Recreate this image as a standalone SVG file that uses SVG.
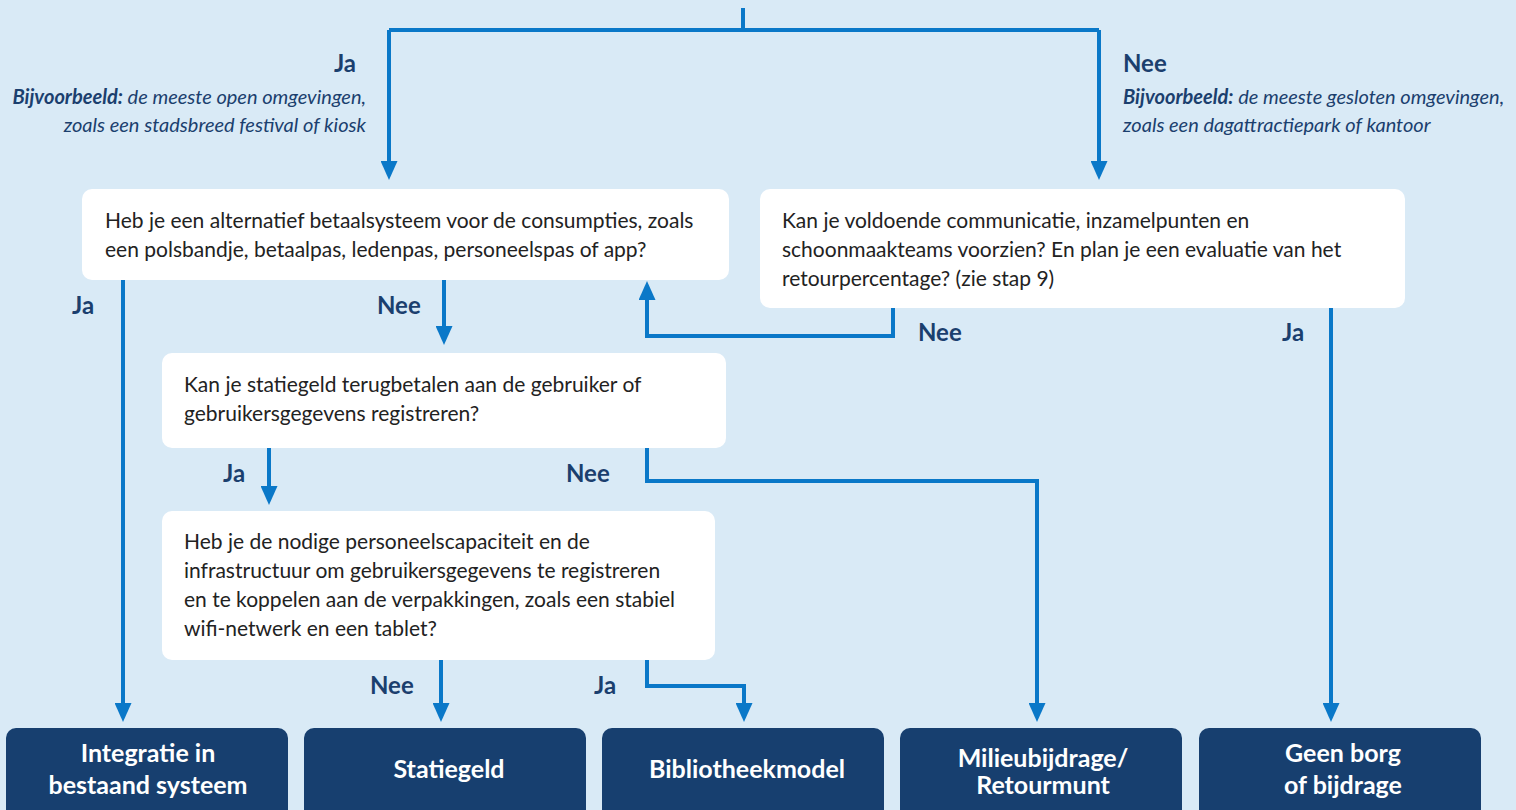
<svg xmlns="http://www.w3.org/2000/svg" width="1516" height="810" viewBox="0 0 1516 810">
<defs>
<marker id="ah" viewBox="0 0 19 17" refX="9" refY="8.5" markerWidth="19" markerHeight="17" markerUnits="userSpaceOnUse" orient="auto">
<path d="M0,0 L19,8.5 L0,17 Z" fill="#0a78c8"/>
</marker>
<style>
.q{fill:#ffffff}
.r{fill:#173f6f}
.t{font-family:Lato,"Liberation Sans",sans-serif;font-size:21px;fill:#222222}
.l{font-family:Lato,"Liberation Sans",sans-serif;font-size:24px;font-weight:bold;fill:#1b3f6e}
.e{font-family:Lato,"Liberation Sans",sans-serif;font-size:20px;font-style:italic;fill:#1b3f6e}
.e .b{font-weight:bold}
.w{font-family:Lato,"Liberation Sans",sans-serif;font-size:25px;font-weight:bold;fill:#ffffff;text-anchor:middle}
.c{fill:none;stroke:#0a78c8;stroke-width:4}
</style>
</defs>
<rect width="1516" height="810" fill="#d9eaf6"/>
<g id="connectors">
<path class="c" d="M743,8 V30"/>
<path class="c" d="M389,30 H1099"/>
<path class="c" d="M389,30 V170" marker-end="url(#ah)"/>
<path class="c" d="M1099,30 V170" marker-end="url(#ah)"/>
<path class="c" d="M123,280 V712" marker-end="url(#ah)"/>
<path class="c" d="M444,280 V335" marker-end="url(#ah)"/>
<path class="c" d="M893,308 V336 H647 V291" marker-end="url(#ah)"/>
<path class="c" d="M1331,308 V712" marker-end="url(#ah)"/>
<path class="c" d="M269,448 V495" marker-end="url(#ah)"/>
<path class="c" d="M647,448 V481 H1037 V712" marker-end="url(#ah)"/>
<path class="c" d="M441,660 V712" marker-end="url(#ah)"/>
<path class="c" d="M647,660 V686 H744 V712" marker-end="url(#ah)"/>
</g>
<g id="labels">
<text class="l" x="356" y="72" text-anchor="end">Ja</text>
<text class="e" x="366" y="104" text-anchor="end"><tspan class="b">Bijvoorbeeld:</tspan> de meeste open omgevingen,</text>
<text class="e" x="366" y="132" text-anchor="end">zoals een stadsbreed festival of kiosk</text>
<text class="l" x="1123" y="72">Nee</text>
<text class="e" x="1123" y="104"><tspan class="b">Bijvoorbeeld:</tspan> de meeste gesloten omgevingen,</text>
<text class="e" x="1123" y="132">zoals een dagattractiepark of kantoor</text>
<text class="l" x="72" y="314">Ja</text>
<text class="l" x="377" y="314">Nee</text>
<text class="l" x="918" y="341">Nee</text>
<text class="l" x="1282" y="341">Ja</text>
<text class="l" x="223" y="482">Ja</text>
<text class="l" x="566" y="482">Nee</text>
<text class="l" x="370" y="694">Nee</text>
<text class="l" x="594" y="694">Ja</text>
</g>
<g id="q1">
<rect class="q" x="82" y="189" width="647" height="91" rx="10"/>
<text class="t" x="105" y="228">Heb je een alternatief betaalsysteem voor de consumpties, zoals</text>
<text class="t" x="105" y="257">een polsbandje, betaalpas, ledenpas, personeelspas of app?</text>
</g>
<g id="q2">
<rect class="q" x="760" y="189" width="645" height="119" rx="10"/>
<text class="t" x="782" y="228">Kan je voldoende communicatie, inzamelpunten en</text>
<text class="t" x="782" y="257">schoonmaakteams voorzien? En plan je een evaluatie van het</text>
<text class="t" x="782" y="286">retourpercentage? (zie stap 9)</text>
</g>
<g id="q3">
<rect class="q" x="162" y="353" width="564" height="95" rx="10"/>
<text class="t" x="184" y="392">Kan je statiegeld terugbetalen aan de gebruiker of</text>
<text class="t" x="184" y="421">gebruikersgegevens registreren?</text>
</g>
<g id="q4">
<rect class="q" x="162" y="511" width="553" height="149" rx="10"/>
<text class="t" x="184" y="549">Heb je de nodige personeelscapaciteit en de</text>
<text class="t" x="184" y="578">infrastructuur om gebruikersgegevens te registreren</text>
<text class="t" x="184" y="607">en te koppelen aan de verpakkingen, zoals een stabiel</text>
<text class="t" x="184" y="636">wifi-netwerk en een tablet?</text>
</g>
<g id="o1">
<rect class="r" x="6" y="728" width="282" height="100" rx="10"/>
<text class="w" x="148" y="762">Integratie in</text>
<text class="w" x="148" y="794">bestaand systeem</text>
</g>
<g id="o2">
<rect class="r" x="304" y="728" width="282" height="100" rx="10"/>
<text class="w" x="449" y="778">Statiegeld</text>
</g>
<g id="o3">
<rect class="r" x="602" y="728" width="282" height="100" rx="10"/>
<text class="w" x="747" y="778">Bibliotheekmodel</text>
</g>
<g id="o4">
<rect class="r" x="900" y="728" width="282" height="100" rx="10"/>
<text class="w" x="1043" y="767">Milieubijdrage/</text>
<text class="w" x="1043" y="794">Retourmunt</text>
</g>
<g id="o5">
<rect class="r" x="1199" y="728" width="282" height="100" rx="10"/>
<text class="w" x="1343" y="762">Geen borg</text>
<text class="w" x="1343" y="794">of bijdrage</text>
</g>
</svg>
